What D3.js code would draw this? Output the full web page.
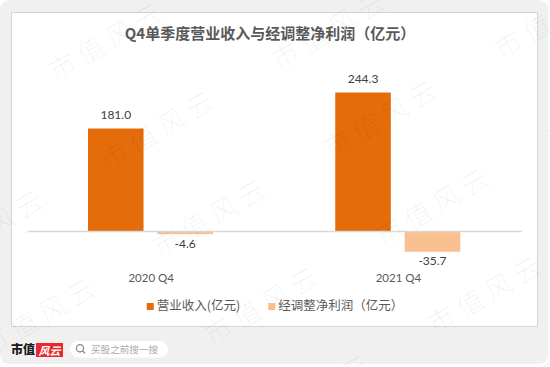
<!DOCTYPE html>
<html>
<head>
<meta charset="utf-8">
<script src="https://cdn.jsdelivr.net/npm/d3@7"></script>
<style>
body { margin: 0; background: #fff; }
svg { display: block; }
text { font-family: Lato, "Noto Sans CJK SC", sans-serif; }
.cjk { font-family: "Noto Sans CJK SC", sans-serif; }
</style>
</head>
<body>
<div id="chart"></div>
<script>
var categories = ['2020 Q4', '2021 Q4']
var series = ['营业收入(亿元)', '经调整净利润（亿元）']
var revenue = [181.0, 244.3]
var adjNetProfit = [-4.6, -35.7]
var colors = ['#E46C0A', '#FAC090']

var title = 'Q4单季度营业收入与经调整净利润（亿元）'

var data = categories.map(function(c, i){
  return [
    {cat: c, key: series[0], value: revenue[i]},
    {cat: c, key: series[1], value: adjNetProfit[i]}
  ]
})

var width = 550, height = 367

var svg = d3.select('#chart').append('svg')
  .attr('width', width).attr('height', height)

// frame
svg.append('rect')
  .attr('x', 0).attr('y', 0).attr('width', 548).attr('height', 364)
  .attr('rx', 9).attr('fill', '#f0f0f0')

svg.append('rect')
  .attr('x', 11.5).attr('y', 12.5).attr('width', 526).attr('height', 314)
  .attr('fill', '#fff').attr('stroke', '#d4d4d4')

svg.append('text').attr('class', 'cjk')
  .attr('x', 270).attr('y', 39)
  .attr('text-anchor', 'middle')
  .attr('font-size', 15).attr('font-weight', 700)
  .attr('fill', '#595959')
  .text(title)

var x0 = d3.scaleBand().domain(categories).range([27.5, 522])
var x1 = d3.scaleBand().domain(series).range([60.5, 185.5]).paddingInner(0.2)
var y = d3.scaleLinear().domain([-60, 280]).range([265.6, 72.2])
var color = d3.scaleOrdinal().domain(series).range(colors)
var fmt = function(v){ return d3.format('.1f')(v).replace('\u2212', '-') }

var groups = svg.selectAll('g.cat').data(data).enter().append('g')
  .attr('class', 'cat')
  .attr('transform', function(d, i){ return 'translate(' + x0(categories[i]) + ',0)' })

groups.selectAll('rect').data(function(d){ return d }).enter().append('rect')
  .attr('x', function(d){ return x1(d.key) })
  .attr('width', x1.bandwidth())
  .attr('y', function(d){ return y(Math.max(0, d.value)) })
  .attr('height', function(d){ return Math.abs(y(d.value) - y(0)) })
  .attr('fill', function(d){ return color(d.key) })

groups.selectAll('text.val').data(function(d){ return d }).enter().append('text')
  .attr('class', 'val')
  .attr('x', function(d){ return x1(d.key) + x1.bandwidth() / 2 })
  .attr('y', function(d){ return d.value >= 0 ? y(d.value) - 10 : y(d.value) + 13.5 })
  .attr('text-anchor', 'middle')
  .attr('font-size', 12).attr('fill', '#404040')
  .text(function(d){ return fmt(d.value) })

// zero line
svg.append('line')
  .attr('x1', x0.range()[0]).attr('x2', x0.range()[1])
  .attr('y1', y(0)).attr('y2', y(0))
  .attr('stroke', '#d9d9d9').attr('stroke-width', 1.5)

svg.selectAll('text.cat-label').data(categories).enter().append('text')
  .attr('class', 'cat-label')
  .attr('x', function(d){ return x0(d) + x0.bandwidth() / 2 })
  .attr('y', 281.5)
  .attr('text-anchor', 'middle')
  .attr('font-size', 11.5).attr('fill', '#595959')
  .text(function(d){ return d })

// legend
var legend = svg.append('g')
var lx = 0
series.forEach(function(s, i){
  var item = legend.append('g').attr('transform', 'translate(' + lx + ',0)')
  item.append('rect')
    .attr('x', 0).attr('y', -7).attr('width', 7).attr('height', 7)
    .attr('fill', color(s))
  var t = item.append('text').attr('class', 'cjk')
    .attr('x', 10).attr('y', 0)
    .attr('font-size', 12.5).attr('fill', '#595959')
    .text(s)
  lx += 10 + t.node().getComputedTextLength() + 28
})
lx -= 28
legend.attr('transform', 'translate(' + (275 - lx / 2) + ',310)')

// footer logo and search pill
svg.append('text').attr('class', 'cjk')
  .attr('x', 11).attr('y', 354)
  .attr('font-size', 12).attr('font-weight', 900).attr('fill', '#1a1a1a')
  .text('市值')
svg.append('rect')
  .attr('x', 36).attr('y', 343).attr('width', 27).attr('height', 14)
  .attr('fill', '#e8282d')
svg.append('text').attr('class', 'cjk')
  .attr('x', 49.5).attr('y', 354.5)
  .attr('text-anchor', 'middle')
  .attr('font-size', 11).attr('font-style', 'italic').attr('font-weight', 700)
  .attr('fill', '#fff')
  .text('风云')

svg.append('rect')
  .attr('x', 70).attr('y', 341).attr('width', 98).attr('height', 16.5)
  .attr('rx', 8.25).attr('fill', '#fff')
svg.append('circle')
  .attr('cx', 80).attr('cy', 348.3).attr('r', 3.6)
  .attr('fill', 'none').attr('stroke', '#888').attr('stroke-width', 1.2)
svg.append('line')
  .attr('x1', 82.6).attr('y1', 350.9).attr('x2', 85).attr('y2', 353.3)
  .attr('stroke', '#888').attr('stroke-width', 1.3)
svg.append('text').attr('class', 'cjk')
  .attr('x', 91).attr('y', 352.8)
  .attr('font-size', 9.6).attr('fill', '#aaa')
  .text('买股之前搜一搜')

// watermark
var wm = svg.append('g').attr('pointer-events', 'none')
for (var r = -1; r < 5; r++) {
  for (var k = -2; k < 4; k++) {
    var px = 63 + k * 223 + r * 52
    var py = 67 - k * 11 + r * 88
    if (px < -150 || px > 600 || py < -40 || py > 420) continue
    wm.append('text').attr('class', 'cjk')
      .attr('transform', 'translate(' + px + ',' + py + ') rotate(-30)')
      .attr('x', -14).attr('dy', '0.35em')
      .attr('font-size', 27).attr('letter-spacing', 6)
      .attr('font-weight', 300)
      .attr('fill', '#000').attr('fill-opacity', 0.06)
      .text('市值风云')
  }
}
</script>
</body>
</html>
